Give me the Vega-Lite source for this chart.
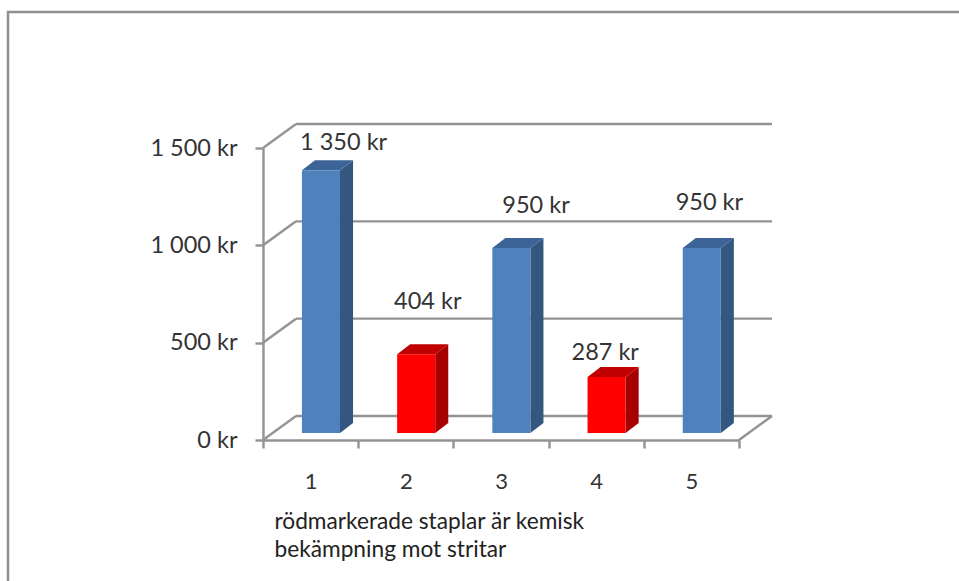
{
"$schema":"https://vega.github.io/schema/vega-lite/v6.json",
"width":960,"height":575,
"autosize":{"type":"none"},
"padding":{"left":8,"top":12,"right":-9,"bottom":-6},
"background":"white",
"config":{"view":{"stroke":"#8f8f8f","strokeWidth":2.5},"font":"Lato"},
"datasets":{
"bars":[
{"kat":1,"kostnad":1350,"typ":"annan","etikett":"1 350 kr"},
{"kat":2,"kostnad":404,"typ":"kemisk","etikett":"404 kr"},
{"kat":3,"kostnad":950,"typ":"annan","etikett":"950 kr"},
{"kat":4,"kostnad":287,"typ":"kemisk","etikett":"287 kr"},
{"kat":5,"kostnad":950,"typ":"annan","etikett":"950 kr"}],
"grid":[{"v":0},{"v":500},{"v":1000},{"v":1500}]
},
"encoding":{},
"layer":[
{"data":{"name":"grid"},
 "transform":[{"calculate":"datum.v+123.3","as":"vb"}],
 "mark":{"type":"rule","stroke":"#939393","strokeWidth":2.4},
 "encoding":{
  "x":{"datum":0.8466,"type":"quantitative","scale":{"domain":[0.5,5.5],"range":[255,731]},
   "axis":{"values":[0.5,1,1.5,2,2.5,3,3.5,4,4.5,5,5.5],"offset":-147,"grid":false,
    "labelExpr":"datum.value%1===0?format(datum.value,'d'):''","labelFontSize":22,"labelColor":"#333333","labelPadding":23,"labelOverlap":false,"labelFlush":false,
    "domainColor":"#939393","domainWidth":2.4,"tickColor":"#939393","tickWidth":2.4,"tickSize":8,
    "tickOpacity":{"condition":{"test":"datum.value%1===0","value":0},"value":1},
    "title":["rödmarkerade staplar är kemisk","bekämpning mot stritar"],"titleFontSize":22.7,"titleFontWeight":"normal","titleColor":"#222222","titleLineHeight":28,"titleAlign":"left","titleAnchor":"start","titleBaseline":"alphabetic","titleX":266,"titleY":88}},
  "x2":{"datum":5.8466},
  "y":{"field":"vb","type":"quantitative","scale":{"domain":[0,1500],"range":[428,136]},
   "axis":{"values":[0,500,1000,1500],"offset":-255,"grid":false,"title":null,
    "labelExpr":"replace(format(datum.value,','),',',' ')+' kr'","labelFontSize":23.5,"labelColor":"#333333","labelPadding":18,
    "domainColor":"#939393","domainWidth":2.4,"tickColor":"#939393","tickWidth":2.4,"tickSize":8}}
 }},
{"data":{"name":"grid"},
 "transform":[{"calculate":"datum.v+123.3","as":"vb"}],
 "mark":{"type":"rule","stroke":"#939393","strokeWidth":2.4},
 "encoding":{
  "x":{"datum":0.5,"type":"quantitative","scale":{"domain":[0.5,5.5],"range":[255,731]}},"x2":{"datum":0.8466},
  "y":{"field":"v","type":"quantitative","scale":{"domain":[0,1500],"range":[428,136]}},"y2":{"field":"vb"}}},
{"data":{"values":[{"v":0}]},
 "transform":[{"calculate":"datum.v+123.3","as":"vb"}],
 "mark":{"type":"rule","stroke":"#939393","strokeWidth":2.4},
 "encoding":{
  "x":{"datum":5.5,"type":"quantitative","scale":{"domain":[0.5,5.5],"range":[255,731]}},"x2":{"datum":5.8466},
  "y":{"field":"v","type":"quantitative","scale":{"domain":[0,1500],"range":[428,136]}},"y2":{"field":"vb"}}},
{"data":{"name":"bars"},
 "transform":[
  {"calculate":"[0,1]","as":"k"},{"flatten":["k"]},
  {"calculate":"datum.kat+0.109+0.2+datum.k*0.137","as":"sx"},
  {"calculate":"36+datum.k*51.4","as":"sb"},
  {"calculate":"datum.kostnad+36+datum.k*51.4","as":"st"}],
 "mark":{"type":"area","orient":"vertical","line":false},
 "encoding":{
  "x":{"field":"sx","type":"quantitative","scale":{"domain":[0.5,5.5],"range":[255,731]}},
  "y":{"field":"st","type":"quantitative","scale":{"domain":[0,1500],"range":[428,136]}},"y2":{"field":"sb"},
  "detail":{"field":"kat"},
  "fill":{"field":"typ","type":"nominal","scale":{"domain":["annan","kemisk"],"range":["#33577f","#a60000"]},"legend":null}}},
{"data":{"name":"bars"},
 "transform":[
  {"calculate":"[0,1]","as":"k"},{"flatten":["k"]},
  {"calculate":"datum.kat+0.109-0.2+datum.k*0.137","as":"tl"},
  {"calculate":"datum.kat+0.109+0.2+datum.k*0.137","as":"tr"},
  {"calculate":"datum.kostnad+36+datum.k*51.4","as":"ty"}],
 "mark":{"type":"area","orient":"horizontal","line":false},
 "encoding":{
  "y":{"field":"ty","type":"quantitative","scale":{"domain":[0,1500],"range":[428,136]}},
  "x":{"field":"tl","type":"quantitative","scale":{"domain":[0.5,5.5],"range":[255,731]}},"x2":{"field":"tr"},
  "detail":{"field":"kat"},
  "fill":{"field":"typ","type":"nominal","scale":{"domain":["annan","kemisk"],"range":["#3c6497","#c00000"]},"legend":null}}},
{"data":{"name":"bars"},
 "transform":[
  {"calculate":"datum.kat+0.109-0.2","as":"fl"},
  {"calculate":"datum.kat+0.109+0.2","as":"fr"},
  {"calculate":"datum.kostnad+36","as":"ft"},
  {"calculate":"36","as":"fb"}],
 "mark":{"type":"rect"},
 "encoding":{
  "x":{"field":"fl","type":"quantitative","scale":{"domain":[0.5,5.5],"range":[255,731]}},"x2":{"field":"fr"},
  "y":{"field":"ft","type":"quantitative","scale":{"domain":[0,1500],"range":[428,136]}},"y2":{"field":"fb"},
  "fill":{"field":"typ","type":"nominal","scale":{"domain":["annan","kemisk"],"range":["#4f81bd","#ff0000"]},"legend":null}}},
{"data":{"name":"bars"},
 "mark":{"type":"text","fontSize":23.5,"color":"#333333","align":"center","baseline":"middle",
  "dx":{"expr":"[33,22,35,9,18][datum.kat-1]"},
  "dy":{"expr":"[-34,-59,-49,-31,-52][datum.kat-1]"}},
 "encoding":{
  "x":{"field":"kat","type":"quantitative","scale":{"domain":[0.5,5.5],"range":[255,731]}},
  "y":{"field":"kostnad","type":"quantitative","scale":{"domain":[0,1500],"range":[428,136]}},
  "text":{"field":"etikett"}}}
],
"resolve":{"scale":{"fill":"independent"}}
}
